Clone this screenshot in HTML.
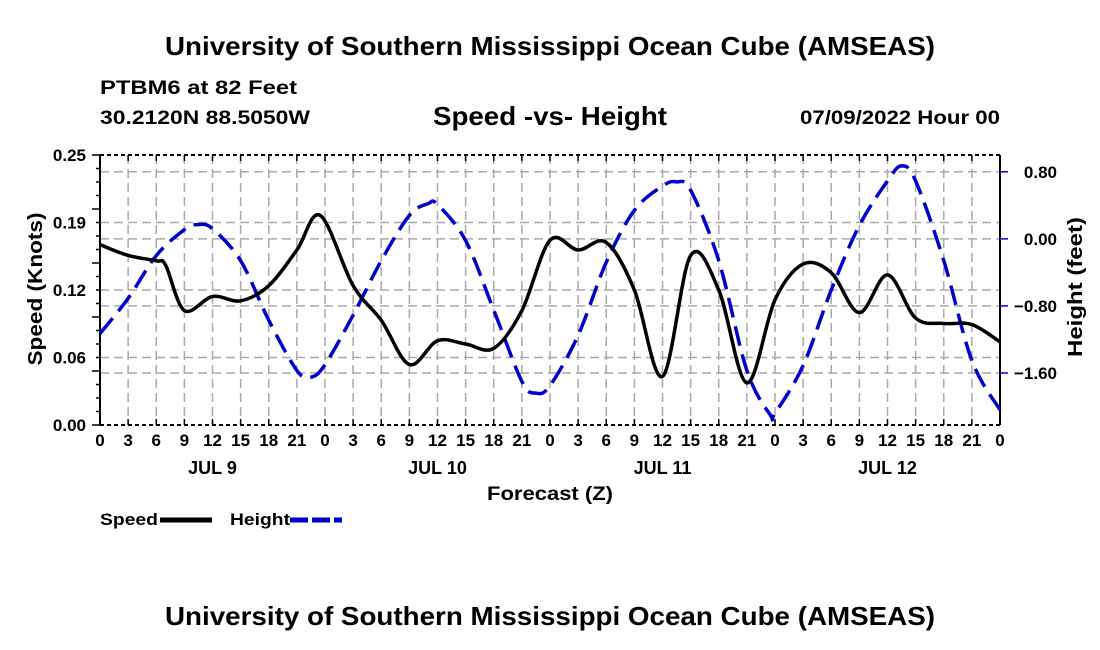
<!DOCTYPE html>
<html><head><meta charset="utf-8"><style>
body{margin:0;background:#fff;}
svg{display:block;font-family:"Liberation Sans",sans-serif;font-weight:bold;}
</style></head><body>
<svg id="chart" width="1100" height="650" xmlns="http://www.w3.org/2000/svg">
<text x="165" y="55" font-size="26" textLength="770" lengthAdjust="spacingAndGlyphs">University of Southern Mississippi Ocean Cube (AMSEAS)</text>
<text x="100" y="94" font-size="19" textLength="197" lengthAdjust="spacingAndGlyphs">PTBM6 at 82 Feet</text>
<text x="100" y="124" font-size="19" textLength="210" lengthAdjust="spacingAndGlyphs">30.2120N  88.5050W</text>
<text x="433" y="125" font-size="26" textLength="234" lengthAdjust="spacingAndGlyphs">Speed -vs- Height</text>
<text x="800" y="124" font-size="19" textLength="200" lengthAdjust="spacingAndGlyphs">07/09/2022 Hour 00</text>
<g id="grid"></g>
<g id="axes"></g>
<g id="series"></g>
<text x="487" y="500" font-size="19" textLength="126" lengthAdjust="spacingAndGlyphs">Forecast (Z)</text>
<text transform="translate(42,289) rotate(-90)" text-anchor="middle" font-size="20" textLength="153" lengthAdjust="spacingAndGlyphs">Speed (Knots)</text>
<text transform="translate(1082,287) rotate(-90)" text-anchor="middle" font-size="20" textLength="140" lengthAdjust="spacingAndGlyphs">Height (feet)</text>
<g>
<text x="100" y="525" font-size="17" textLength="58" lengthAdjust="spacingAndGlyphs">Speed</text>
<line x1="160" y1="520" x2="212" y2="520" stroke="#000" stroke-width="5"/>
<text x="230" y="525" font-size="17" textLength="60" lengthAdjust="spacingAndGlyphs">Height</text>
<line x1="290" y1="520" x2="342" y2="520" stroke="#0000cc" stroke-width="5" stroke-dasharray="18,4"/>
</g>
<text x="165" y="625" font-size="26" textLength="770" lengthAdjust="spacingAndGlyphs">University of Southern Mississippi Ocean Cube (AMSEAS)</text>
</svg>
<script>
const speedHours=[0,3,6,7,9,12,15,18,21,23.5,27,30,33,36,39,42,45,48,51,54,57,60,63,66,69,72,75,78,81,84,87,90,93,96];
const speedValues=[0.167,0.157,0.152,0.148,0.106,0.119,0.115,0.129,0.162,0.194,0.129,0.097,0.056,0.078,0.075,0.071,0.106,0.171,0.162,0.169,0.125,0.045,0.157,0.125,0.039,0.116,0.149,0.141,0.104,0.139,0.099,0.094,0.093,0.077];
const heightHours=[0,3,6,9,10.5,12,15,18,21,22.5,24,27,30,33,35,36,39,42,45,46.5,48,51,54,57,60,61.5,63,66,69,71.5,72,75,78,81,84,85.5,87,90,93,96];
const heightValues=[-1.13,-0.71,-0.2,0.11,0.17,0.12,-0.26,-0.97,-1.57,-1.65,-1.5,-0.91,-0.26,0.28,0.42,0.41,-0.02,-0.85,-1.7,-1.84,-1.75,-1.15,-0.28,0.34,0.63,0.68,0.58,-0.26,-1.57,-2.1,-2.08,-1.51,-0.61,0.16,0.69,0.87,0.69,-0.26,-1.45,-2.04];
const xTickLabels=["0","3","6","9","12","15","18","21"];
const dayLabels=["JUL 9","JUL 10","JUL 11","JUL 12"];
const leftTicks=[0,0.0625,0.125,0.1875,0.25];
const leftTickLabels=["0.00","0.06","0.12","0.19","0.25"];
const rightTicks=[0.8,0,-0.8,-1.6];
const rightTickLabels=["0.80","0.00","\u22120.80","\u22121.60"];

const X0=100,X1=1000,Y0=425,Y1=155;
const HMIN=-2.22,HMAX=1.0;
const xs=h=>X0+(X1-X0)*h/96;
const ys=v=>Y0-(Y0-Y1)*v/0.25;
const yh=v=>Y0-(Y0-Y1)*(v-HMIN)/(HMAX-HMIN);
const NS="http://www.w3.org/2000/svg";
function mk(tag,attrs,parent){const e=document.createElementNS(NS,tag);for(const k in attrs)e.setAttribute(k,attrs[k]);parent.appendChild(e);return e;}
const grid=document.getElementById('grid'),axes=document.getElementById('axes'),series=document.getElementById('series');
const gs={stroke:"#aaa","stroke-width":1.5,"stroke-dasharray":"9,5"};
for(let h=3;h<96;h+=3){const l=mk('line',Object.assign({x1:xs(h),x2:xs(h),y1:Y1,y2:Y0},gs),grid);

}
leftTicks.slice(1,4).forEach(v=>{const l=mk('line',Object.assign({x1:X0,x2:X1,y1:ys(v),y2:ys(v)},gs),grid);

});
rightTicks.forEach(v=>{const l=mk('line',Object.assign({x1:X0,x2:X1,y1:yh(v),y2:yh(v)},gs),grid);

});
mk('line',{x1:X0,x2:X0,y1:Y1,y2:Y0,stroke:"#000","stroke-width":2},axes);
mk('line',{x1:X1,x2:X1,y1:Y1,y2:Y0,stroke:"#000","stroke-width":2},axes);
mk('line',{x1:X0,x2:X1,y1:Y0,y2:Y0,stroke:"#000","stroke-width":2,"stroke-dasharray":"4,3"},axes);
mk('line',{x1:X0,x2:X1,y1:Y1,y2:Y1,stroke:"#000","stroke-width":2,"stroke-dasharray":"4,3"},axes);
for(let h=0;h<=96;h+=3){
 mk('line',{x1:xs(h),x2:xs(h),y1:Y0,y2:Y0-6,stroke:"#000","stroke-width":1.5},axes);
 mk('line',{x1:xs(h),x2:xs(h),y1:Y1,y2:Y1+6,stroke:"#000","stroke-width":1.5},axes);
 const t=mk('text',{x:xs(h),y:Y0+21,"text-anchor":"middle","font-size":17},axes);
 t.textContent=xTickLabels[(h/3)%8];
 
 
}
dayLabels.forEach((d,i)=>{const t=mk('text',{x:xs(i*24+12),y:Y0+49,"text-anchor":"middle","font-size":18},axes);t.textContent=d;

});
for(let i=0;i<=20;i++){const v=0.25*i/20;mk('line',{x1:X0-(i%4==0?8:4),x2:X0,y1:ys(v),y2:ys(v),stroke:"#000","stroke-width":1.5},axes);}
leftTicks.forEach((v,i)=>{const t=mk('text',{x:X0-14,y:ys(v)+6,"text-anchor":"end","font-size":17},axes);t.textContent=leftTickLabels[i];

});
rightTicks.forEach((v,i)=>{mk('line',{x1:X1,x2:X1+8,y1:yh(v),y2:yh(v),stroke:"#0000cc","stroke-width":1.5},axes);
const t=mk('text',{x:X1+57,y:yh(v)+6,"text-anchor":"end","font-size":17},axes);t.textContent=rightTickLabels[i];

});
function smooth(pts){let d=`M${pts[0][0]},${pts[0][1]}`;
for(let i=0;i<pts.length-1;i++){const p0=pts[i-1]||pts[i],p1=pts[i],p2=pts[i+1],p3=pts[i+2]||p2;
const c1=[p1[0]+(p2[0]-p0[0])/6,p1[1]+(p2[1]-p0[1])/6],c2=[p2[0]-(p3[0]-p1[0])/6,p2[1]-(p3[1]-p1[1])/6];
d+=` C${c1[0]},${c1[1]} ${c2[0]},${c2[1]} ${p2[0]},${p2[1]}`;}return d;}
const hp=mk('path',{d:smooth(heightHours.map((h,i)=>[xs(h),yh(heightValues[i])])),fill:"none",stroke:"#0000cc","stroke-width":3.5,"stroke-dasharray":"20,9"},series);


const sp=mk('path',{d:smooth(speedHours.map((h,i)=>[xs(h),ys(speedValues[i])])),fill:"none",stroke:"#000","stroke-width":3.5},series);


</script>
</body></html>
